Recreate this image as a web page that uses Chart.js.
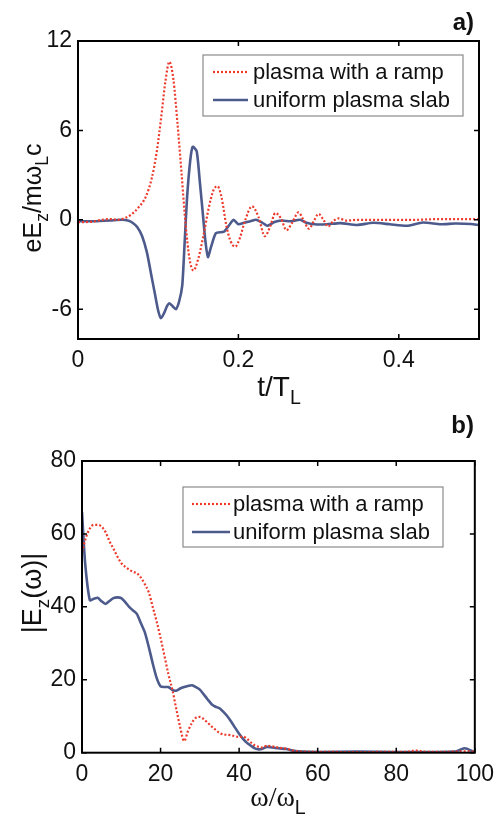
<!DOCTYPE html>
<html>
<head>
<meta charset="utf-8">
<script src="https://cdn.jsdelivr.net/npm/chart.js@4.4.1/dist/chart.umd.min.js"></script>
<style>
  body { margin: 0; background: #fff; }
  #wrap { position: relative; width: 502px; height: 817px; overflow: hidden; }
  canvas { position: absolute; left: 0; }
  #chartA { top: 0; }
  #chartB { top: 405px; }
</style>
</head>
<body>
<div id="wrap">
  <canvas id="chartA" width="502" height="410"></canvas>
  <canvas id="chartB" width="502" height="412"></canvas>
</div>
<script>
// ---- panel a: field vs time ----
const tRamp = [0, 0.01, 0.02, 0.03, 0.04, 0.05, 0.055, 0.065, 0.075, 0.085, 0.092, 0.098, 0.104, 0.109, 0.114,
  0.119, 0.124, 0.129, 0.134, 0.139, 0.144, 0.150, 0.157, 0.163, 0.169, 0.174, 0.179, 0.185, 0.190, 0.196,
  0.202, 0.208, 0.217, 0.225, 0.233, 0.240, 0.246, 0.253, 0.260, 0.267, 0.275, 0.281, 0.288, 0.294, 0.300,
  0.306, 0.312, 0.318, 0.325, 0.335, 0.35, 0.37, 0.40, 0.42, 0.45, 0.48, 0.50];
const eRamp = [-0.15, -0.15, -0.1, 0, 0.05, 0, 0.05, 0.3, 0.8, 1.6, 2.8, 4.5, 7.0, 9.3, 10.6,
  9.4, 6.5, 3.2, -0.2, -2.6, -3.4, -2.6, -0.9, 0.8, 2.0, 2.25, 1.5, -0.4, -1.4, -1.8,
  -1.2, -0.1, 0.9, 0.2, -1.1, -0.4, 0.45, 0.1, -0.7, -0.2, 0.5, 0, -0.6, -0.1, 0.4,
  0, -0.45, -0.1, 0.1, -0.05, 0, 0, 0, 0, 0.05, 0.05, 0.05];

const tUniform = [0, 0.02, 0.04, 0.055, 0.062, 0.068, 0.074, 0.080, 0.086, 0.091, 0.096, 0.100, 0.1034, 0.107,
  0.111, 0.114, 0.118, 0.122, 0.126, 0.130, 0.133, 0.136, 0.140, 0.143, 0.148, 0.152, 0.156, 0.159, 0.162,
  0.166, 0.172, 0.182, 0.188, 0.194, 0.200, 0.207, 0.215, 0.222, 0.230, 0.236, 0.245, 0.254, 0.265, 0.277,
  0.285, 0.295, 0.31, 0.327, 0.348, 0.368, 0.389, 0.41, 0.43, 0.452, 0.47, 0.49, 0.50];
const eUniform = [-0.1, -0.1, -0.05, 0, -0.05, -0.2, -0.5, -1.1, -2.2, -3.6, -5.0, -6.1, -6.6, -6.3,
  -5.8, -5.6, -5.8, -6.0, -5.5, -4.4, -1.5, 1.5, 4.0, 4.9, 4.6, 2.5, 0.2, -1.5, -2.5,
  -1.8, -0.9, -0.8, -0.4, 0, -0.3, -0.2, -0.1, 0, -0.2, -0.4, -0.15, -0.05, -0.1, 0,
  -0.2, -0.3, -0.3, -0.22, -0.35, -0.2, -0.3, -0.4, -0.18, -0.3, -0.25, -0.28, -0.35];

const ticksAx = [0, 0.2, 0.4];
const ticksAy = [-6, 0, 6, 12];

// ---- panel b: spectrum ----
const wRamp = [0, 1, 2, 3, 4, 5, 6, 7, 8, 9, 10, 11, 12, 13, 14, 15, 16, 17, 18, 19, 20, 21, 22, 23, 24, 25, 26,
  27, 28, 29, 30, 31, 32, 33, 34, 35, 36, 37, 38, 39, 40, 41, 42, 43, 44, 45, 46, 47, 48, 50, 52, 54, 56,
  60, 65, 70, 75, 80, 83, 85, 87, 90, 95, 98, 100];
const sRamp = [55, 59, 61.5, 62.5, 62.5, 62, 60.5, 58, 56, 53.8, 52, 51, 50.2, 49.6, 49.2, 48, 46.2, 44, 40, 36, 31.5, 26.5, 21.5, 17.3, 12, 7, 3.2,
  6, 8.2, 9.6, 9.8, 9.2, 8.2, 7.2, 6.3, 5.4, 5, 4.9, 4.8, 4.5, 4.3, 4.4, 3.8, 2.8, 2, 1.6, 1.4, 1.9, 1.8, 1.4, 1.1, 0.5, 0.3,
  0.2, 0.2, 0.15, 0.2, 0.2, 0.3, 0.6, 0.3, 0.2, 0.3, 0.4, 0.2];

const wUniform = [0, 0.8, 2, 3, 4, 5, 6, 7, 8, 9, 10, 11, 12, 13, 14, 15, 16, 17, 18, 19, 20, 21, 22, 23, 24, 25,
  26, 27, 28, 29, 30, 31, 32, 33, 34, 35, 36, 37, 38, 39, 40, 41, 42, 43, 44, 45, 46, 47, 48, 50, 52, 54, 56,
  60, 70, 80, 90, 95, 96, 97.5, 99, 100];
const sUniform = [66, 52, 41.8, 42.2, 42.5, 41.5, 40.8, 41.6, 42.4, 42.6, 42.4, 41.3, 40, 39, 38, 35.5, 33, 29, 24.5, 20.5, 18.2, 18, 18, 17.2, 17, 17.6,
  18, 18.3, 18.5, 18, 17.3, 16, 14.6, 13.3, 12.6, 12.2, 11.2, 10, 8.5, 6.8, 5.2, 3.8, 2.7, 1.9, 1.2, 0.9, 1.1, 1.6, 1.5, 1.2, 1, 0.5, 0.3,
  0.2, 0.3, 0.2, 0.2, 0.3, 0.7, 1.2, 0.6, 0];

const ticksBx = [0, 20, 40, 60, 80, 100];
const ticksBy = [0, 20, 40, 60, 80];

const legendNames = ["plasma with a ramp", "uniform plasma slab"];

const RED = "#ec3a2c";
const BLUE = "#4d5a8c";
const SANS = "'Liberation Sans', Arial, sans-serif";
const SERIF = "'Liberation Serif', 'Times New Roman', serif";

function pts(xs, ys) {
  return xs.map((x, i) => ({ x: x, y: ys[i] }));
}

// draws a list of text runs; sub runs are smaller and lowered
function drawRuns(ctx, runs, size) {
  let total = 0;
  runs.forEach((r) => {
    const fs = r.sub ? size * 0.7 : size;
    ctx.font = fs + "px " + (r.serif ? SERIF : SANS);
    r.w = ctx.measureText(r.t).width;
    total += r.w;
  });
  let x = -total / 2;
  runs.forEach((r) => {
    const fs = r.sub ? size * 0.7 : size;
    ctx.font = fs + "px " + (r.serif ? SERIF : SANS);
    ctx.fillText(r.t, x, r.sub ? size * 0.28 : 0);
    x += r.w;
  });
}

const framePlugin = {
  id: "frame",
  afterDraw(chart, args, opts) {
    const { ctx, chartArea: a } = chart;
    const sx = chart.scales.x;
    const sy = chart.scales.y;
    ctx.save();
    ctx.strokeStyle = "#000";
    ctx.lineWidth = 2;
    ctx.strokeRect(a.left, a.top, a.right - a.left, a.bottom - a.top);
    ctx.lineWidth = 1.5;
    ctx.beginPath();
    sx.ticks.forEach((t) => {
      const p = sx.getPixelForValue(t.value);
      ctx.moveTo(p, a.bottom); ctx.lineTo(p, a.bottom - 5);
      ctx.moveTo(p, a.top); ctx.lineTo(p, a.top + 5);
    });
    sy.ticks.forEach((t) => {
      const p = sy.getPixelForValue(t.value);
      ctx.moveTo(a.left, p); ctx.lineTo(a.left + 5, p);
      ctx.moveTo(a.right, p); ctx.lineTo(a.right - 5, p);
    });
    ctx.stroke();

    // legend box
    const lg = opts.legend;
    ctx.fillStyle = "#fff";
    ctx.fillRect(lg.x, lg.y, lg.w, lg.h);
    ctx.strokeStyle = "#8a8a8a";
    ctx.lineWidth = 1.2;
    ctx.strokeRect(lg.x, lg.y, lg.w, lg.h);
    chart.data.datasets.forEach((ds, i) => {
      const yy = lg.y + lg.row0 + i * lg.gap;
      ctx.strokeStyle = ds.borderColor;
      ctx.lineWidth = ds.borderWidth;
      ctx.setLineDash(ds.borderDash || []);
      ctx.beginPath();
      ctx.moveTo(lg.x + lg.lineX0, yy);
      ctx.lineTo(lg.x + lg.lineX1, yy);
      ctx.stroke();
      ctx.setLineDash([]);
      ctx.fillStyle = "#111";
      ctx.font = "22px " + SANS;
      ctx.textBaseline = "middle";
      ctx.textAlign = "left";
      ctx.fillText(ds.label, lg.x + lg.textX, yy + 1);
    });

    // axis titles
    ctx.fillStyle = "#111";
    ctx.textBaseline = "alphabetic";
    ctx.textAlign = "left";
    ctx.save();
    ctx.translate(opts.xTitle.x, opts.xTitle.y);
    drawRuns(ctx, opts.xTitle.runs, opts.xTitle.size);
    ctx.restore();
    ctx.save();
    ctx.translate(opts.yTitle.x, opts.yTitle.y);
    ctx.rotate(-Math.PI / 2);
    drawRuns(ctx, opts.yTitle.runs, opts.yTitle.size);
    ctx.restore();

    // panel tag
    ctx.font = "bold 24px " + SANS;
    ctx.textAlign = "right";
    ctx.fillText(opts.tag.text, opts.tag.x, opts.tag.y);
    ctx.restore();
  },
};

function fixTicks(list) {
  return (scale) => {
    scale.ticks = list.map((v) => ({ value: v }));
  };
}

function makeOptions(cfg) {
  return {
    responsive: false,
    animation: false,
    layout: { padding: { top: cfg.top, right: cfg.right, left: 0, bottom: 0 } },
    scales: {
      x: {
        type: "linear",
        min: cfg.xMin,
        max: cfg.xMax,
        grid: { display: false, drawTicks: false },
        border: { display: false },
        afterBuildTicks: fixTicks(cfg.xTicks),
        afterFit: (s) => { s.height = cfg.xHeight; },
        ticks: {
          color: "#111",
          padding: 8,
          maxRotation: 0,
          font: { family: SANS, size: 23 },
          callback: (v) => String(v),
        },
      },
      y: {
        type: "linear",
        min: cfg.yMin,
        max: cfg.yMax,
        grid: { display: false, drawTicks: false },
        border: { display: false },
        afterBuildTicks: fixTicks(cfg.yTicks),
        afterFit: (s) => { s.width = cfg.yWidth; },
        ticks: {
          color: "#111",
          padding: 6,
          font: { family: SANS, size: 23 },
          callback: (v) => String(v),
        },
      },
    },
    plugins: {
      legend: { display: false },
      tooltip: { enabled: false },
      frame: cfg.frame,
    },
  };
}

function seriesSets(x1, y1, x2, y2) {
  return [
    {
      label: legendNames[0],
      data: pts(x1, y1),
      borderColor: RED,
      borderWidth: 2.2,
      borderDash: [2, 2],
      pointRadius: 0,
      cubicInterpolationMode: "monotone",
    },
    {
      label: legendNames[1],
      data: pts(x2, y2),
      borderColor: BLUE,
      borderWidth: 2.6,
      pointRadius: 0,
      tension: 0.2,
    },
  ];
}

new Chart(document.getElementById("chartA"), {
  type: "line",
  data: { datasets: seriesSets(tRamp, eRamp, tUniform, eUniform) },
  options: makeOptions({
    top: 41, right: 23, xHeight: 71, yWidth: 78,
    xMin: 0, xMax: 0.5, yMin: -8, yMax: 12,
    xTicks: ticksAx, yTicks: ticksAy,
    frame: {
      legend: { x: 203, y: 55, w: 260, h: 61, row0: 17, gap: 28, lineX0: 10, lineX1: 45, textX: 50 },
      xTitle: { x: 279, y: 396, size: 28, runs: [{ t: "t/T" }, { t: "L", sub: true }] },
      yTitle: { x: 41, y: 198, size: 25, runs: [{ t: "eE" }, { t: "z", sub: true }, { t: "/mω" }, { t: "L", sub: true }, { t: "c" }] },
      tag: { text: "a)", x: 474, y: 30 },
    },
  }),
  plugins: [framePlugin],
});

new Chart(document.getElementById("chartB"), {
  type: "line",
  data: { datasets: seriesSets(wRamp, sRamp, wUniform, sUniform) },
  options: makeOptions({
    top: 56, right: 27, xHeight: 64.3, yWidth: 82,
    xMin: 0, xMax: 100, yMin: 0, yMax: 80,
    xTicks: ticksBx, yTicks: ticksBy,
    frame: {
      legend: { x: 183, y: 82, w: 260, h: 60, row0: 17, gap: 28, lineX0: 9, lineX1: 47, textX: 50 },
      xTitle: { x: 278, y: 401, size: 28, runs: [{ t: "ω/ω", serif: true }, { t: "L", sub: true }] },
      yTitle: { x: 41, y: 188, size: 27, runs: [{ t: "|E" }, { t: "z", sub: true }, { t: "(ω)|" }] },
      tag: { text: "b)", x: 474, y: 28 },
    },
  }),
  plugins: [framePlugin],
});
</script>
</body>
</html>
